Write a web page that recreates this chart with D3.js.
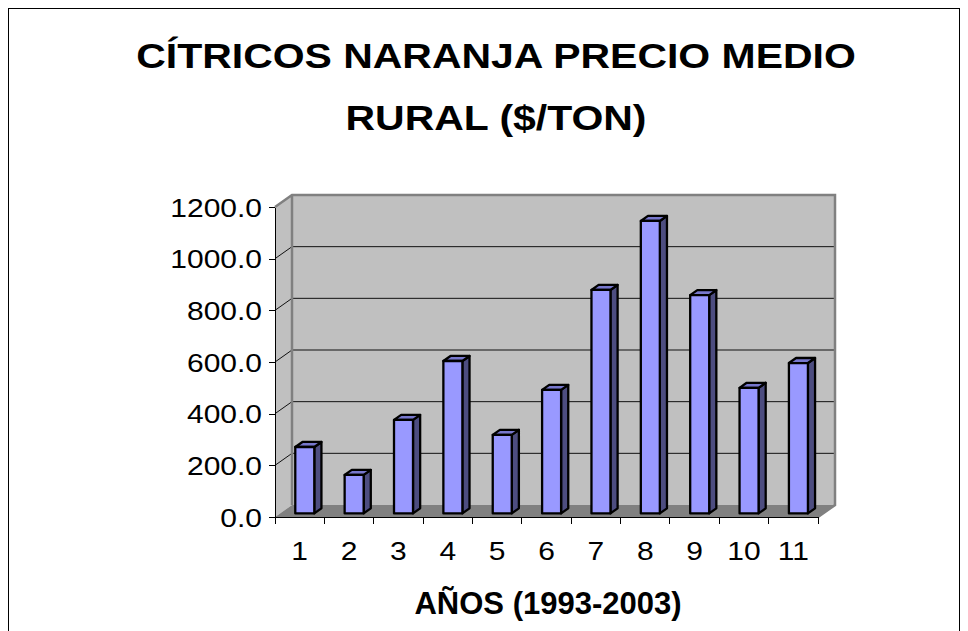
<!DOCTYPE html>
<meta charset="utf-8">
<style>
body { margin: 0; background: #fff; }
svg { display: block; font-family: "Liberation Sans", Arial, sans-serif; }
.axis path, .axis line { stroke: #000; shape-rendering: crispEdges; }
</style>
<svg width="968" height="631"></svg>
<script src="https://d3js.org/d3.v7.min.js"></script>
<script>
// data
var categories = ["1", "2", "3", "4", "5", "6", "7", "8", "9", "10", "11"];
var values = [257, 149, 362, 590, 304, 478, 865, 1132, 845, 486, 582];
var yTicks = [0, 200, 400, 600, 800, 1000, 1200];
var titleLines = ["CÍTRICOS NARANJA PRECIO MEDIO", "RURAL ($/TON)"];
var xTitle = "AÑOS (1993-2003)";

var svg = d3.select("svg");

// depth offset of the 3d box
var DX = 17, DY = -12;
var stretch = 1.2;

var x = d3.scaleBand().domain(categories).range([275, 818]);
var y = d3.scaleLinear().domain([0, 1200]).range([517, 207]);

var x0 = x.range()[0], x1 = x.range()[1];
var yb = y(0), yt = y(1200);

// frame
svg.append("rect")
    .attr("x", 8.5).attr("y", 8.5)
    .attr("width", 951).attr("height", 660)
    .attr("fill", "none").attr("stroke", "#000");

// title
svg.append("g").selectAll("text")
    .data(titleLines)
  .enter().append("text")
    .attr("transform", function(d, i) { return "translate(496," + (68 + i * 62) + ") scale(1.17,1)"; })
    .attr("text-anchor", "middle")
    .attr("font-size", 35)
    .attr("font-weight", "bold")
    .text(function(d) { return d; });

// side wall
svg.append("polygon")
    .attr("points", [[x0, yb], [x0, yt], [x0 + DX, yt + DY], [x0 + DX, yb + DY]].join(" "))
    .attr("fill", "#c0c0c0");

// back wall
svg.append("rect")
    .attr("x", x0 + DX).attr("y", yt + DY)
    .attr("width", x1 - x0).attr("height", yb - yt)
    .attr("fill", "#c0c0c0");

// floor
svg.append("polygon")
    .attr("points", [[x0, yb], [x1, yb], [x1 + DX, yb + DY], [x0 + DX, yb + DY]].join(" "))
    .attr("fill", "#808080");

// gridlines
var inner = yTicks.filter(function(d) { return d > 0 && d < 1200; });
var grid = svg.append("g").attr("stroke", "#111").attr("stroke-width", 1);
grid.selectAll("line.back")
    .data(inner)
  .enter().append("line")
    .attr("class", "back")
    .attr("x1", x0 + DX).attr("x2", x1 + DX)
    .attr("y1", function(d) { return y(d) + DY; })
    .attr("y2", function(d) { return y(d) + DY; });
grid.selectAll("line.side")
    .data(inner)
  .enter().append("line")
    .attr("class", "side")
    .attr("x1", x0).attr("x2", x0 + DX)
    .attr("y1", function(d) { return y(d); })
    .attr("y2", function(d) { return y(d) + DY; });

// wall edges
svg.append("path")
    .attr("d", "M" + x0 + "," + yt + "L" + (x0 + DX) + "," + (yt + DY) +
               "L" + (x1 + DX) + "," + (yt + DY) + "L" + (x1 + DX) + "," + (yb + DY) +
               "L" + x1 + "," + yb +
               "M" + (x0 + DX) + "," + (yt + DY) + "L" + (x0 + DX) + "," + (yb + DY))
    .attr("fill", "none").attr("stroke", "#808080").attr("stroke-width", 2.5);

// bars
var bw = x.bandwidth() * 0.385;
var f0 = 0.3, f1 = 0.72;
var fdx = DX * f0, fdy = DY * f0, ddx = DX * (f1 - f0), ddy = DY * (f1 - f0);

var bars = svg.append("g").selectAll("g")
    .data(values)
  .enter().append("g")
    .attr("stroke", "#000").attr("stroke-width", 2.3).attr("stroke-linejoin", "round");

function bx(d, i) { return x(categories[i]) + (x.bandwidth() - bw) / 2 + fdx; }

bars.append("polygon")
    .attr("fill", "#4d4d80")
    .attr("points", function(d, i) {
      var l = bx(d, i) + bw, t = y(d) + fdy, b = y(0) + fdy;
      return [[l, t], [l + ddx, t + ddy], [l + ddx, b + ddy], [l, b]].join(" ");
    });
bars.append("polygon")
    .attr("fill", "#7777cc")
    .attr("points", function(d, i) {
      var l = bx(d, i), t = y(d) + fdy;
      return [[l, t], [l + ddx, t + ddy], [l + bw + ddx, t + ddy], [l + bw, t]].join(" ");
    });
bars.append("rect")
    .attr("fill", "#9999ff")
    .attr("x", bx)
    .attr("y", function(d) { return y(d) + fdy; })
    .attr("width", bw)
    .attr("height", function(d) { return y(0) - y(d); });

// y axis
var yAxis = svg.append("g")
    .attr("class", "axis")
    .attr("transform", "translate(" + x0 + ",0)")
    .call(d3.axisLeft(y).tickValues(yTicks).tickSize(6).tickSizeOuter(0).tickFormat(d3.format(".1f")));
yAxis.select(".domain").attr("stroke-width", 1.3);
yAxis.selectAll("text")
    .attr("font-family", null)
    .attr("font-size", 25)
    .attr("fill", "#000")
    .attr("x", -13 / stretch)
    .attr("dy", "0.36em")
    .attr("transform", "scale(" + stretch + ",1)");

// x axis (labels in band centres, ticks on band edges)
var xAxis = svg.append("g")
    .attr("class", "axis")
    .attr("transform", "translate(0," + yb + ")")
    .call(d3.axisBottom(x).tickSize(0).tickPadding(0));
xAxis.select(".domain").attr("stroke-width", 1.3);
xAxis.selectAll("text")
    .attr("font-family", null)
    .attr("font-size", 25)
    .attr("fill", "#000")
    .attr("x", 0)
    .attr("y", 43)
    .attr("dy", 0)
    .attr("transform", "scale(" + stretch + ",1)");
xAxis.selectAll("line.edge")
    .data(categories.map(function(c) { return x(c); }).concat([x1]))
  .enter().append("line")
    .attr("class", "edge")
    .attr("x1", function(d) { return d; }).attr("x2", function(d) { return d; })
    .attr("y1", 0).attr("y2", 7)
    .attr("stroke", "#000");

// x axis title
svg.append("text")
    .attr("x", 548).attr("y", 614)
    .attr("text-anchor", "middle")
    .attr("font-size", 31)
    .attr("font-weight", "bold")
    .text(xTitle);
</script>
